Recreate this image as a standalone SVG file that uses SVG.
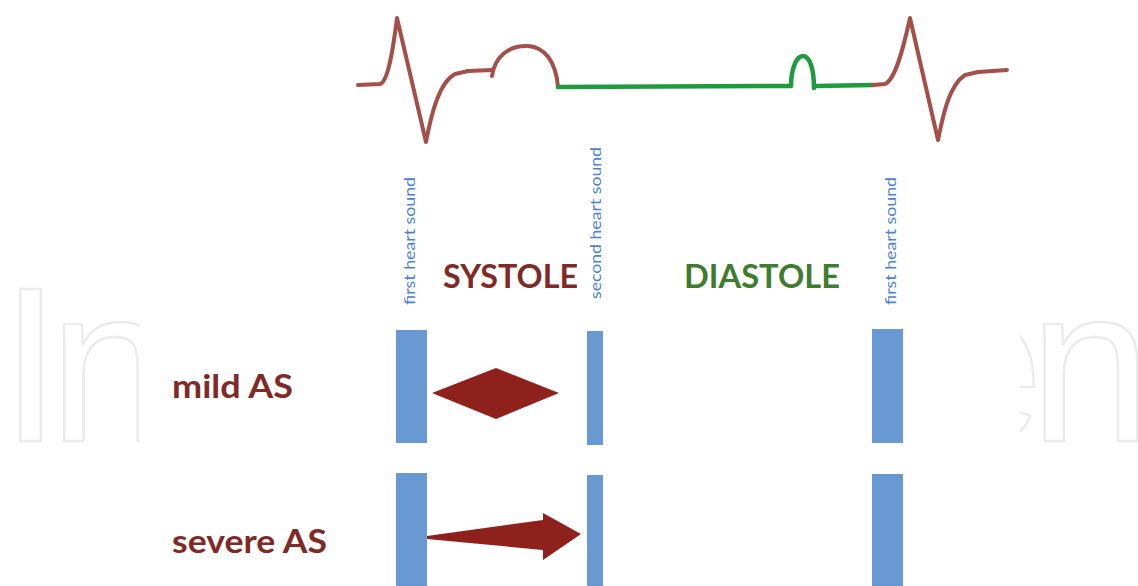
<svg xmlns="http://www.w3.org/2000/svg" width="1138" height="586" viewBox="0 0 1138 586">
<style>
.wm{font-family:"Liberation Sans",Arial,sans-serif;font-size:220px;fill:none;stroke:#ebebeb;stroke-width:2.4;stroke-linejoin:round}
.ecgb{fill:none;stroke:#a4504a;stroke-width:4;stroke-linecap:round;stroke-linejoin:round}
.ecgg{fill:none;stroke:#1f9a3e;stroke-width:4.5;stroke-linecap:round;stroke-linejoin:round}
.bar{fill:#6899d2}
.vlab{font-family:Lato,"Liberation Sans",sans-serif;font-size:16px;fill:#4d82d3}
.big{font-family:Lato,"Liberation Sans",sans-serif;font-weight:bold;font-size:32px}
.red{fill:#7f2a26}
.grn{fill:#3f7c30}
.mur{fill:#8e211c}
</style>
<defs>
<clipPath id="cl"><rect x="0" y="270" width="140" height="185"/></clipPath>
<clipPath id="cr"><rect x="1020" y="270" width="118" height="185"/></clipPath>
</defs>
<rect width="1138" height="586" fill="#ffffff"/>
<g id="watermark">
<g clip-path="url(#cl)"><text class="wm" x="0" y="441" letter-spacing="-12">In</text></g>
<g clip-path="url(#cr)"><text class="wm" x="921" y="441" letter-spacing="-14">en</text></g>
</g>
<g id="ecg">
<path class="ecgb" d="M358,85 L380,84 C388,82 393,50 397,18 L426,142 C432,110 440,82 455,74 L468,71 L492,70"/>
<path class="ecgb" d="M492,76 C495,56 509,46 526,46"/>
<path class="ecgb" d="M528,46 C545,47 556,62 558,87"/>
<path class="ecgg" d="M558,87 L791,86 C791,70 796,56 803,56 C810,56 814,70 814,88 M816,86 L873,85"/>
<path class="ecgb" d="M873,85 L885,84 C895,80 903,50 910,18 L938,140 C944,110 950,85 965,75 L978,72 L1007,70"/>
</g>
<g id="labels">
<text class="vlab" transform="translate(415,305) rotate(-90)" textLength="128" lengthAdjust="spacingAndGlyphs">first heart sound</text>
<text class="vlab" transform="translate(601,299) rotate(-90)" textLength="152" lengthAdjust="spacingAndGlyphs">second heart sound</text>
<text class="vlab" transform="translate(896,305) rotate(-90)" textLength="128" lengthAdjust="spacingAndGlyphs">first heart sound</text>
<text class="big red" x="443" y="288" textLength="135" lengthAdjust="spacingAndGlyphs">SYSTOLE</text>
<text class="big grn" x="684" y="288" textLength="156" lengthAdjust="spacingAndGlyphs">DIASTOLE</text>
</g>
<g id="mild">
<text class="big red" x="172" y="398" textLength="121" lengthAdjust="spacingAndGlyphs">mild AS</text>
<rect class="bar" x="396" y="330" width="31" height="113"/>
<rect class="bar" x="587" y="331" width="16" height="114"/>
<rect class="bar" x="872" y="329" width="31" height="114"/>
<polygon class="mur" points="432,393 496,368 559,393 496,419"/>
</g>
<g id="severe">
<text class="big red" x="172" y="553" textLength="155" lengthAdjust="spacingAndGlyphs">severe AS</text>
<rect class="bar" x="396" y="473" width="31" height="113"/>
<rect class="bar" x="587" y="475" width="16" height="111"/>
<rect class="bar" x="872" y="474" width="31" height="112"/>
<polygon class="mur" points="427,536 543,520 543,513 581,534 543,560 543,550 427,539"/>
</g>
</svg>
